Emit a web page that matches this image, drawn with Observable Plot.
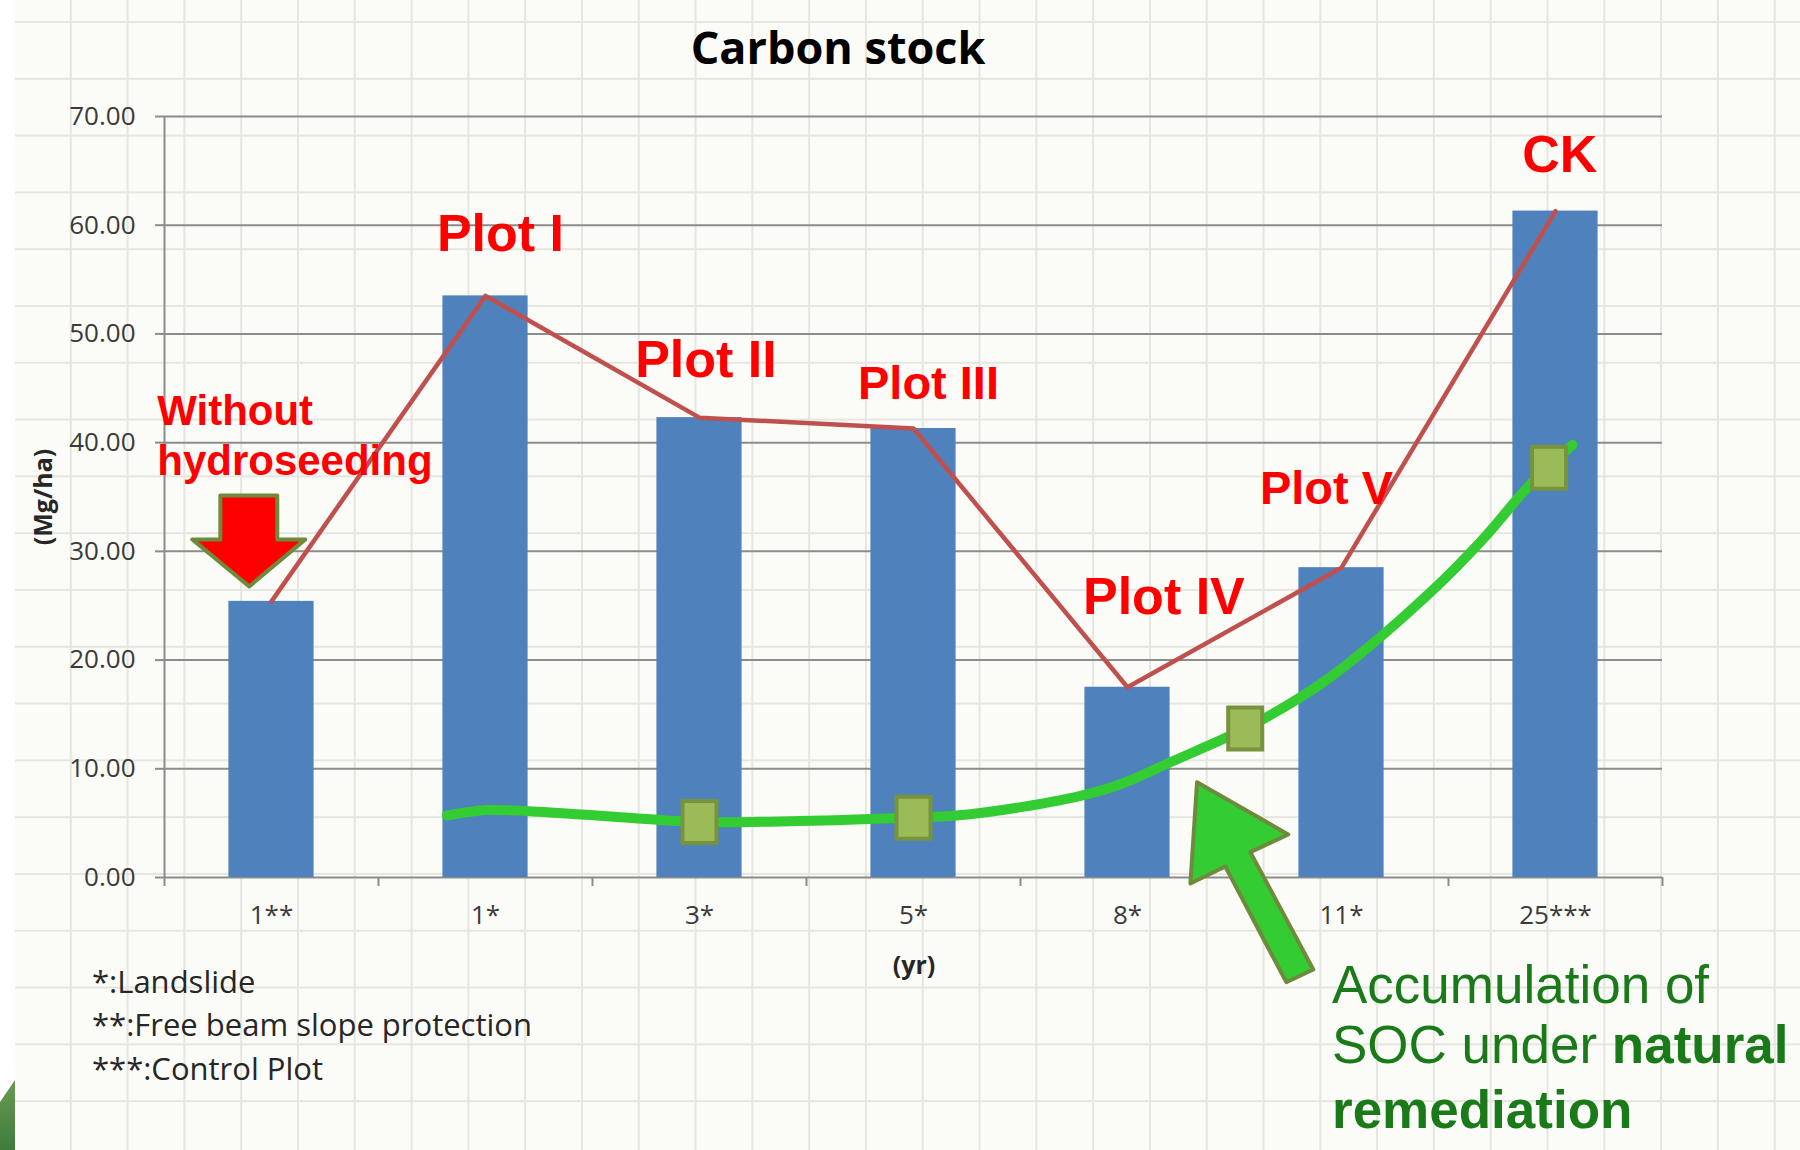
<!DOCTYPE html>
<html>
<head>
<meta charset="utf-8">
<script src="https://cdn.jsdelivr.net/npm/d3@7"></script>
<script src="https://cdn.jsdelivr.net/npm/@observablehq/plot@0.6"></script>
<style>
  html, body { margin: 0; padding: 0; }
  body {
    width: 1800px; height: 1150px; overflow: hidden; position: relative;
    background-color: #fbfbf8;
    background-image:
      linear-gradient(to right, #e6e6e0 2px, transparent 2px),
      linear-gradient(to bottom, #e6e6e0 2px, transparent 2px);
    background-size: 56.8px 56.8px;
    background-position: 13px 21px;
    font-family: "Open Sans", sans-serif;
  }
  #chart { position: absolute; left: 0; top: 0; }
  .ov { position: absolute; white-space: nowrap; }
  #title { left: 838px; top: 24px; transform: translateX(-50%); font-size: 45px; line-height: 45px; font-weight: 700; color: #000; }
  #ylab { left: 42px; top: 497px; transform: translate(-50%,-50%) rotate(-90deg); font-size: 25px; font-weight: 700; color: #262626; line-height: 1; }
  #xlab { left: 914px; top: 964px; transform: translate(-50%,-50%); font-size: 25px; font-weight: 700; color: #262626; line-height: 1; }
  .note { left: 92px; font-size: 31px; line-height: 43.5px; color: #262626; }
  .soc { left: 1332px; font-family: "Liberation Sans", Arial, sans-serif; font-size: 53px; line-height: 53px; color: #1a7a1a; }
  #strip { left: 0; top: 0; width: 15px; height: 1150px; background: #fff; }
  #corner { left: 0; top: 1080px; width: 15px; height: 70px; background: linear-gradient(#6a9a55, #3f7b3b); clip-path: polygon(0 22px, 15px 0, 15px 70px, 0 70px); }
</style>
</head>
<body>
<div id="strip" class="ov"></div>
<div id="corner" class="ov"></div>
<div id="chart"></div>
<div id="title" class="ov">Carbon stock</div>
<div id="ylab" class="ov">(Mg/ha)</div>
<div id="xlab" class="ov">(yr)</div>
<div class="ov note" style="top:960px">*:Landslide</div>
<div class="ov note" style="top:1003px">**:Free beam slope protection</div>
<div class="ov note" style="top:1047px">***:Control Plot</div>
<div class="ov soc" style="top:958px">Accumulation of</div>
<div class="ov soc" style="top:1018px">SOC under <b>natural</b></div>
<div class="ov soc" style="top:1083px"><b>remediation</b></div>
<script>
// ---- data ----
const categories = ["1**", "1*", "3*", "5*", "8*", "11*", "25***"];
const carbonStock = [25.4, 53.5, 42.3, 41.3, 17.5, 28.5, 61.3];
const yTicks = [0, 10, 20, 30, 40, 50, 60, 70];

// SOC trend curve: [category index position, Mg/ha]
const socCurveX = [0.82, 1.01, 1.2, 1.63, 2.0, 2.47, 2.97, 3.2, 3.51, 3.82, 3.97, 4.2, 4.55, 4.81, 5.0, 5.43, 5.66, 5.88, 6.08];
const socCurveY = [5.7, 6.2, 6.1, 5.55, 5.1, 5.2, 5.5, 5.7, 6.5, 7.7, 8.6, 10.6, 13.7, 16.6, 19.2, 26.5, 31.1, 36.1, 39.8];
const socMarkX = [2.0, 3.0, 4.55, 5.97];
const socMarkY = [5.1, 5.5, 13.7, 37.7];

// annotations (position in category index / Mg/ha units)
const plotLabels = ["Plot I", "Plot II", "Plot III", "Plot IV", "Plot V", "CK"];
const plotLabelX = [1.07, 2.03, 3.07, 4.17, 4.93, 6.02];
const plotLabelY = [59.2, 47.6, 45.4, 25.8, 35.7, 66.4];
const plotLabelSize = [52, 52, 47, 52, 47, 52];
const noteLines = ["Without", "hydroseeding"];
const noteX = [-0.534, -0.534];
const noteY = [42.9, 38.3];
const redArrowX = [-0.239, 0.027, 0.027, 0.158, -0.104, -0.37, -0.239];
const redArrowY = [35.14, 35.14, 31.1, 31.1, 26.77, 31.1, 31.1];
const greenArrowX = [4.325, 4.751, 4.574, 4.868, 4.742, 4.457, 4.294];
const greenArrowY = [8.77, 3.96, 2.33, -8.46, -9.63, 1.01, -0.55];

// ---- tables ----
const bars = categories.map((c, i) => ({i, v: carbonStock[i]}));
const curve = socCurveX.map((x, k) => ({x, y: socCurveY[k]}));
const marks = socMarkX.map((x, k) => ({x, y: socMarkY[k]}));
const labels = plotLabels.map((t, k) => ({t, x: plotLabelX[k], y: plotLabelY[k], s: plotLabelSize[k]}));
const notes = noteLines.map((t, k) => ({t, x: noteX[k], y: noteY[k]}));
const redArrow = redArrowX.map((x, k) => ({x, y: redArrowY[k]}));
const greenArrow = greenArrowX.map((x, k) => ({x, y: greenArrowY[k]}));
const boundaries = d3.range(categories.length + 1).map(k => k - 0.5);

const gray = "#8c8c8c";
const half = 0.199;
const rectSym = { draw(ctx) { ctx.rect(-17, -21, 34, 42); } };

const chart = Plot.plot({
  width: 1800,
  height: 1150,
  marginTop: 116,
  marginBottom: 273,
  marginLeft: 164,
  marginRight: 138,
  x: {domain: [-0.5, categories.length - 0.5], axis: null},
  y: {domain: [0, 70], axis: null},
  style: {background: "transparent", color: "#3a3a3a", fontFamily: "'Open Sans', sans-serif", overflow: "visible"},
  marks: [
    Plot.ruleY(yTicks, {stroke: gray, strokeWidth: 2}),
    Plot.ruleX([-0.5], {y1: 0, y2: 70, stroke: gray, strokeWidth: 2}),
    Plot.axisY(yTicks, {tickSize: 9, tickPadding: 20, tickFormat: d => d.toFixed(2), fontSize: 26, stroke: gray, strokeWidth: 2, label: null}),
    Plot.axisX(boundaries, {tickSize: 9, tickFormat: () => "", stroke: gray, strokeWidth: 2, label: null}),
    Plot.axisX(d3.range(categories.length), {tickSize: 0, tickPadding: 28, tickFormat: i => categories[i], fontSize: 26, label: null}),
    Plot.rectY(bars, {x1: d => d.i - half, x2: d => d.i + half, y1: 0, y2: "v", fill: "#4f81bd"}),
    Plot.line(bars, {x: "i", y: "v", stroke: "#c0504d", strokeWidth: 4.5}),
    Plot.line(curve, {x: "x", y: "y", curve: "catmull-rom", stroke: "#33cc33", strokeWidth: 10, strokeLinecap: "round"}),
    Plot.dot(marks, {x: "x", y: "y", symbol: rectSym, fill: "#9bbb59", stroke: "#77933c", strokeWidth: 4}),
    Plot.line(redArrow, {x: "x", y: "y", curve: "linear-closed", fill: "#ff0000", stroke: "#6e8b3d", strokeWidth: 4}),
    Plot.line(greenArrow, {x: "x", y: "y", curve: "linear-closed", fill: "#33cc33", stroke: "#6e8b3d", strokeWidth: 4}),
    Plot.text(labels, {x: "x", y: "y", text: "t", fontSize: d => d.s, fontWeight: "bold", fill: "#ff0000", fontFamily: "'Liberation Sans', Arial, sans-serif"}),
    Plot.text(notes, {x: "x", y: "y", text: "t", textAnchor: "start", fontSize: 42, fontWeight: "bold", fill: "#ff0000", fontFamily: "'Liberation Sans', Arial, sans-serif"})
  ]
});
document.getElementById("chart").appendChild(chart);
</script>
</body>
</html>
